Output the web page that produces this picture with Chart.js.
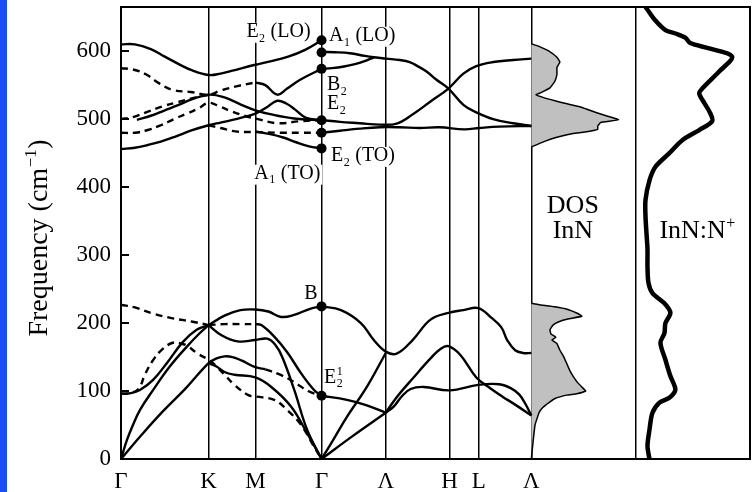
<!DOCTYPE html>
<html><head><meta charset="utf-8">
<script src="https://cdn.jsdelivr.net/npm/chart.js@4.4.1/dist/chart.umd.min.js"></script>
<style>html,body{margin:0;padding:0;background:#fff;}canvas{display:block;}</style>
</head><body>
<canvas id="c" width="755" height="492"></canvas>
<script>
// ---- k-path (x) and frequency (y, cm^-1) ----
const kPointPositions = [0, 88, 135, 201.5, 266, 330, 359.5, 412.3];
const kPointLabels = ['Γ', 'K', 'M', 'Γ', 'Λ', 'H', 'L', 'Λ'];
const panelDividers = [517, 632];
const freqTicks = [0, 100, 200, 300, 400, 500, 600];

// ---- optical branches, Γ-K-M-Γ ----
const branchS1 = [[0,610],[14,610],[30,603],[44,592],[58,581],[71,572],[88,565],[100,567],[111,571],[135,580],[150,585],[168,592],[185,602],[201.5,616]];
const branchD1 = [[0,575],[12,573],[25,566],[38,553],[52,543],[70,540],[88,536],[100,542],[118,549],[135,554]];
const branchB2 = [[135,554],[145,550],[157,536],[167,545],[180,558],[201.5,574]];
const branchS2 = [[16,499],[30,505],[44,513],[58,521],[71,529],[88,536],[104,532],[121,521],[135,513],[151,507],[174,501],[201.5,498.5]];
const branchD2 = [[0,500],[12,503],[27,511],[42,519],[57,525],[72,531],[88,536]];
const branchS3 = [[0,456],[14,458],[27,462],[40,467],[54,474],[70,483],[88,491],[100,495],[111,498.5],[123,503],[135,508],[147,518],[157,527],[166,523],[175,514],[186,502],[201.5,498.5]];
const branchD3 = [[0,480],[14,480],[27,484],[40,491],[53,500],[66,508],[78,516],[88,524],[100,518],[112,511],[124,505],[135,501],[157,494],[180,497],[201.5,498.5]];
const branchD4 = [[88,491],[100,487],[115,482],[135,481],[160,480],[180,480],[201.5,480]];
const branchS4 = [[135,482],[150,478],[163,473],[176,466],[189,460],[201.5,457]];
// ---- optical branches, Γ-Λ-H-L-Λ ----
const branchR1 = [[201.5,599],[215,598.5],[230,597],[245,593],[254,591],[266,589],[280,587],[290,584],[298,578],[307,570],[317,558],[329,545],[344,521],[357,510],[374,500],[394,494],[412.3,490]];
const branchR2 = [[201.5,574],[212,575],[224,577.5],[235,581],[244,585],[254,591]];
const branchR3 = [[201.5,498.5],[220,496],[240,494],[260,492],[277,493.5],[294,508],[311,526],[329,545],[344,567],[357,578],[374,584],[394,587],[412.3,589]];
const branchR4 = [[201.5,480],[220,483],[240,486],[260,488],[280,488],[300,487],[320,488],[345,485],[360,487],[380,489],[412.3,490]];
// ---- acoustic branches, Γ-K-M-Γ ----
const branchTA1 = [[0,0],[21,36],[42,70],[65,104],[88,141],[96,148],[104,151],[112,150],[121,145],[135,135],[145,132]];
const branchTA1d = [[145,132],[160,124],[174,113],[188,100],[201.5,93]];
const branchTA2 = [[0,96],[10,97],[19,101.5],[32,116],[46,141],[62,172],[76,190],[88,197]];
const branchLA = [[0,0],[6,28],[12,50],[19,72],[32,101],[49,136],[66,165],[79,185],[88,197]];
const branchDL1 = [[0,96],[10,97],[18,104],[24,124],[32,145],[42,162],[52,171],[60,170],[66,167],[77,155],[88,146],[96,136],[104,124],[114,109],[128,94],[135,92],[154,87],[167,72],[181,50],[194,18],[201.5,0]];
const branchDtop = [[0,227],[14,223],[32,214],[52,207],[72,202],[88,197]];
const branchB = [[88,197],[104,211],[120,219],[135,220],[148,217],[161,209],[174,212],[190,221],[201.5,224.5]];
const branchDK = [[88,197],[104,198.5],[120,198.5],[135,198.5]];
const branchE2low = [[135,198.5],[141,197],[154,180],[167,157],[181,126],[194,101.5],[201.5,93]];
const branchK2 = [[88,197],[101,182],[117,173],[135,175],[147,177],[155,168],[162,150],[174,102],[187,43],[201.5,0]];
const branchK3 = [[88,141],[96,136],[104,128],[114,124],[135,120],[151,106],[171,77],[187,38],[201.5,0]];
// ---- acoustic branches, Γ-Λ-H-L-Λ ----
const branchBR = [[201.5,224.5],[221,219],[241,200],[254,175],[266,158],[277,155],[293,175],[311,205],[329,215],[344,219],[359,222],[372,208],[382,194],[388,175],[396,160],[404,156],[412.3,156]];
const branchLAR = [[201.5,0],[214,30],[227,62],[247,106],[266,156]];
const branchE2R = [[201.5,93],[227,87],[247,79],[266,68]];
const branchTAR = [[201.5,0],[233,34],[266,68]];
const branchPeak = [[266,68],[277,91],[294,120],[311,148],[321,162],[329,166],[341,153],[357,120],[371,104],[383,92],[396,80],[412.3,64]];
const branchFlat = [[266,68],[274,77],[282,92],[291,103],[304,106],[330,101],[359,109],[380,110],[392,104],[400,95],[406,82],[412.3,64]];
// ---- Γ-point modes ----
const gammaDots = [[201.5,616],[201.5,598],[201.5,574],[201.5,498.5],[201.5,480],[201.5,457],[201.5,224.5],[201.5,93]];
// ---- DOS InN (x = DOS amplitude on panel axis, y = frequency) ----
const dosUpper = [[412.3,611],[420,607],[430,600],[438,591],[441,584],[438,576],[438,566],[436,556],[431,546],[422,539],[417,536],[424,532],[436,527],[447,523],[462,518],[471,513],[485,506],[500,499],[482,495],[479,490],[479,485],[466,481],[454,479],[437,473],[425,467],[412.3,459]];
const dosLower = [[412.3,229],[420,227],[436,224],[449,220],[459,214],[463,210],[449,206],[440,202],[434,197],[431,190],[432,184],[437,179],[433,175],[438,170],[441,160],[445,150],[448,140],[451,130],[455,120],[459,112],[463,106],[467,100],[458,96],[448,94],[436,89],[430,83],[424,76],[420,68],[416,50],[414,25],[412.3,0]];
// ---- InN:N+ spectrum ----
const nPlusProfile = [[527,665],[529,661],[537,645],[547,631],[557,626],[567,620],[572,612],[591,604],[614,592],[601,570],[584,545],[581,538],[586,524],[592,509],[594,497],[581,484],[564,469],[551,450],[537,430],[531,410],[527,381],[527,357],[528,332],[529,308],[529,283],[530,259],[534,244],[546,229],[552,215],[547,200],[546,185],[542,171],[547,146],[552,122],[557,102],[551,90],[541,83],[534,68],[531,43],[529,19],[531,0]];

const solidBranches = [branchS1, branchB2, branchS2, branchS3, branchS4, branchR1, branchR2, branchR3, branchR4,
  branchTA1, branchTA2, branchLA, branchB, branchE2low, branchK2, branchK3, branchBR, branchLAR, branchE2R, branchTAR, branchPeak, branchFlat];
const dashedBranches = [branchD1, branchD2, branchD3, branchD4, branchTA1d, branchDL1, branchDtop, branchDK];

const annotations = [
  {parts:[['E','n'],['2','sub'],[' (LO)','n']], x:126, f:620.6, size:20, align:'left', bg:true},
  {parts:[['A','n'],['1','sub'],[' (LO)','n']], x:209, f:614.7, size:20, align:'left', bg:true},
  {parts:[['B','n'],['2','sub']], x:207, f:542.6, size:20, align:'left', bg:true},
  {parts:[['E','n'],['2','sub']], x:207, f:514.7, size:20, align:'left', bg:true},
  {parts:[['E','n'],['2','sub'],[' (TO)','n']], x:211, f:438, size:20, align:'left', bg:true},
  {parts:[['A','n'],['1','sub'],[' (TO)','n']], x:134, f:411.8, size:20, align:'left', bg:true},
  {parts:[['B','n']], x:184, f:235.3, size:20, align:'left', bg:false},
  {parts:[['E','n'],['2|1','ss']], x:204, f:111.8, size:20, align:'left', bg:false},
  {parts:[['DOS','n']], x:454, f:361.8, size:26, align:'center', bg:false},
  {parts:[['InN','n']], x:454, f:325, size:26, align:'center', bg:false},
  {parts:[['InN:N','n'],['+','sup']], x:541, f:325, size:26, align:'left', bg:false}
];

const FONT = '"Liberation Serif", "Times New Roman", serif';
function pts(a){ return a.map(p => ({x:p[0], y:p[1]})); }
function lineDs(a, dashed){
  return {data:pts(a), showLine:true, borderColor:'#000', borderWidth:2.4, borderDash: dashed ? [7,5] : [],
    pointRadius:0, tension:0.4, fill:false, borderCapStyle:'butt', borderJoinStyle:'round'};
}
const datasets = [];
solidBranches.forEach(b => datasets.push(lineDs(b, false)));
dashedBranches.forEach(b => datasets.push(lineDs(b, true)));
datasets.push({data:pts(gammaDots), showLine:false, pointRadius:5, pointBackgroundColor:'#000', pointBorderColor:'#000', pointBorderWidth:0});
datasets.push({data:pts(nPlusProfile), showLine:true, borderColor:'#000', borderWidth:4.5, pointRadius:0, tension:0.3, fill:false, borderJoinStyle:'round'});
datasets.push({data:pts(dosUpper), showLine:true, borderColor:'#000', borderWidth:1.5, backgroundColor:'#c0c0c0', pointRadius:0, tension:0.1, fill:'shape'});
datasets.push({data:pts(dosLower), showLine:true, borderColor:'#000', borderWidth:1.5, backgroundColor:'#c0c0c0', pointRadius:0, tension:0.1, fill:'shape'});

function fontOf(size){ return size + 'px ' + FONT; }
function partWidth(ctx, p, size){
  const t = p[0], k = p[1];
  if (k === 'n'){ ctx.font = fontOf(size); return ctx.measureText(t).width; }
  const s = Math.round(size*0.62);
  ctx.font = fontOf(s);
  if (k === 'ss'){ const [a,b] = t.split('|'); return Math.max(ctx.measureText(a).width, ctx.measureText(b).width); }
  return ctx.measureText(t).width;
}
function richWidth(ctx, parts, size){ return parts.reduce((w,p)=>w+partWidth(ctx,p,size)+(p[1]==='n'?0:1),0); }
function drawRich(ctx, parts, x, y, size){
  let cx = x;
  ctx.textAlign = 'left'; ctx.textBaseline = 'alphabetic'; ctx.fillStyle = '#000';
  for (const p of parts){
    const t = p[0], k = p[1];
    const w = partWidth(ctx, p, size);
    const s = Math.round(size*0.62);
    if (k === 'n'){ ctx.font = fontOf(size); ctx.fillText(t, cx, y); }
    else if (k === 'sub'){ ctx.font = fontOf(s); ctx.fillText(t, cx+0.5, y + size*0.22); }
    else if (k === 'sup'){ ctx.font = fontOf(s); ctx.fillText(t, cx+0.5, y - size*0.38); }
    else if (k === 'ss'){ const [a,b] = t.split('|'); ctx.font = fontOf(s); ctx.fillText(a, cx+0.5, y + size*0.22); ctx.fillText(b, cx+0.5, y - size*0.4); }
    cx += w + (k === 'n' ? 0 : 1);
  }
}

const decorPlugin = {
  id:'decor',
  beforeDraw(chart){
    const ctx = chart.ctx;
    ctx.save();
    ctx.fillStyle = '#fff'; ctx.fillRect(0,0,chart.width,chart.height);
    ctx.fillStyle = '#1b4df5'; ctx.fillRect(0,0,7,chart.height);
    ctx.restore();
  },
  beforeDatasetsDraw(chart){
    const ctx = chart.ctx, xs = chart.scales.x, ys = chart.scales.y;
    ctx.save();
    ctx.fillStyle = '#fff';
    annotations.forEach(a => {
      if (!a.bg) return;
      const w = richWidth(ctx, a.parts, a.size);
      const px = xs.getPixelForValue(a.x), py = ys.getPixelForValue(a.f);
      const left = a.align === 'center' ? px - w/2 : px;
      ctx.fillRect(left - 2, py - a.size*0.72, w + 4, a.size*1.0);
    });
    ctx.restore();
  },
  afterDatasetsDraw(chart){
    const ctx = chart.ctx, xs = chart.scales.x, ys = chart.scales.y, ca = chart.chartArea;
    ctx.save();
    ctx.strokeStyle = '#000'; ctx.lineWidth = 2;
    ctx.strokeRect(ca.left, ca.top, ca.right - ca.left, ca.bottom - ca.top);
    ctx.beginPath();
    freqTicks.forEach(v => { const py = Math.round(ys.getPixelForValue(v)); ctx.moveTo(ca.left, py); ctx.lineTo(ca.left + 8, py); });
    ctx.stroke();
    annotations.forEach(a => {
      const w = richWidth(ctx, a.parts, a.size);
      const px = xs.getPixelForValue(a.x), py = ys.getPixelForValue(a.f);
      const left = a.align === 'center' ? px - w/2 : px;
      drawRich(ctx, a.parts, left, py, a.size);
    });
    const tparts = [['Frequency (cm','n'],['−1','sup'],[')','n']];
    const tw = richWidth(ctx, tparts, 28);
    ctx.translate(47, (ca.top + ca.bottom)/2 + 5);
    ctx.rotate(-Math.PI/2);
    drawRich(ctx, tparts, -tw/2, 0, 28);
    ctx.restore();
  }
};

new Chart(document.getElementById('c'), {
  type:'scatter',
  data:{datasets},
  options:{
    responsive:false, animation:false, devicePixelRatio:1,
    layout:{padding:{left:0, right:2, top:7, bottom:0}},
    plugins:{legend:{display:false}, tooltip:{enabled:false}},
    scales:{
      x:{type:'linear', min:0, max:632,
        afterFit(s){ s.height = 33; s.paddingLeft = 0; s.paddingRight = 0; },
        afterBuildTicks(s){ s.ticks = kPointPositions.concat(panelDividers).map(v => ({value:v})); },
        grid:{color:'#000', lineWidth:1.5, drawTicks:false},
        border:{display:false},
        ticks:{autoSkip:false, maxRotation:0, padding:9, color:'#000', font:{family:FONT, size:23},
          callback(v){ const i = kPointPositions.indexOf(v); return i >= 0 ? kPointLabels[i] : ''; }}
      },
      y:{type:'linear', min:0, max:665,
        afterFit(s){ s.width = 121; s.paddingTop = 0; s.paddingBottom = 0; },
        afterBuildTicks(s){ s.ticks = freqTicks.map(v => ({value:v})); },
        grid:{display:false, drawTicks:false},
        border:{display:false},
        ticks:{padding:10, color:'#000', font:{family:FONT, size:23}}
      }
    }
  },
  plugins:[decorPlugin]
});
</script>
</body></html>
